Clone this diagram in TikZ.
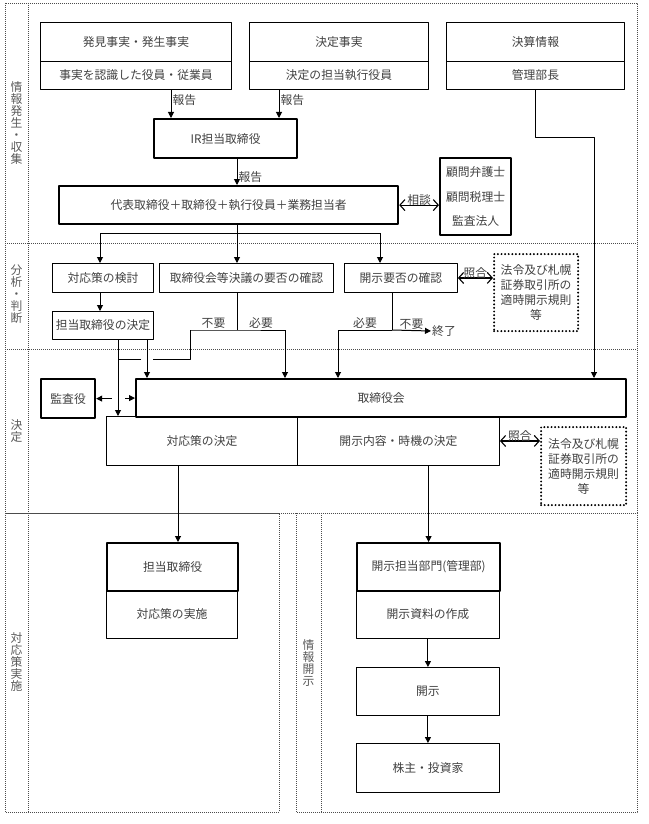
\documentclass[tikz,border=0pt]{standalone}
\usepackage{fontspec}
\setmainfont{Noto Sans CJK JP}
\usetikzlibrary{arrows.meta}

\begin{document}
\begin{tikzpicture}[x=1pt, y=-1pt, font=\fontsize{11.8}{14}\selectfont, line join=round,
	>={Triangle[length=6pt,width=6pt]},
	box/.style 2 args={draw, line width=.9pt, anchor=north west, inner sep=0pt, text=black!75,
		minimum width=#1pt, minimum height=#2pt},
	thickbox/.style 2 args={box={#1}{#2}, line width=2.2pt},
	dotbox/.style 2 args={box={#1}{#2}, line width=2.2pt, dash pattern=on 0pt off 3.6pt, line cap=round,
		align=center, font=\fontsize{11.8}{15}\selectfont},
	frame/.style={line width=.7pt, black!70, dash pattern=on .7pt off 1.3pt},
	side/.style={text=black!65, align=center, inner sep=0pt, font=\fontsize{11.8}{11.9}\selectfont},
	tag/.style={text=black!75, inner sep=1pt},
	link/.style={line width=1pt},
	talk/.style={line width=1.1pt, {Straight Barb[length=5pt,width=11pt]}-{Straight Barb[length=5pt,width=11pt]}}]
	\useasboundingbox (0,0) rectangle (648,824);
	\draw[frame] (5,3) rectangle (637,513);
	\draw[frame] (28,3) -- (28,513);
	\draw[frame] (5,243) -- (637,243);
	\draw[frame] (5,349) -- (637,349);
	\draw[frame] (5,513) rectangle (279,812);
	\draw[frame] (28,513) -- (28,812);
	\draw[frame] (296,513) rectangle (637,812);
	\draw[frame] (321,513) -- (321,812);
	\node[side] (s1) at (16.5,123) {情\\報\\発\\生\\・\\収\\集};
	\node[side] (s2) at (16.5,294) {分\\析\\・\\判\\断};
	\node[side] (s3) at (16.5,431) {決\\定};
	\node[side] (s4) at (16.5,662) {対\\応\\策\\実\\施};
	\node[side] (s5) at (308.5,663) {情\\報\\開\\示};

	\node[box={191}{39}] (hakken) at (40,22) {発見事実・発生事実};
	\node[box={191}{28}] (hakken2) at (40,61) {事実を認識した役員・従業員};
	\node[box={179}{39}] (kettei) at (249,22) {決定事実};
	\node[box={179}{28}] (kettei2) at (249,61) {決定の担当執行役員};
	\node[box={178}{39}] (kessan) at (446,22) {決算情報};
	\node[box={178}{28}] (kanri) at (446,61) {管理部長};
	\node[thickbox={143}{39}] (ir) at (153,118) {IR担当取締役};
	\node[thickbox={339}{38}] (daihyo) at (58,185) {代表取締役＋取締役＋執行役員＋業務担当者};
	\node[thickbox={71}{77}, align=center, font=\fontsize{11.8}{24.5}\selectfont] (komon) at (439,157)
		{顧問弁護士\\顧問税理士\\監査法人};
	\node[box={101}{29}] (kento) at (52,263) {対応策の検討};
	\node[box={174}{29}] (youhi) at (159,263) {取締役会等決議の要否の確認};
	\node[box={113}{29}] (kaijiyouhi) at (344,263) {開示要否の確認};
	\node[dotbox={84}{77}] (hourei1) at (493,253) {法令及び札幌\\証券取引所の\\適時開示規則\\等};
	\node[box={101}{28}] (tantokettei) at (52,311) {担当取締役の決定};
	\node[tag, anchor=west] (shuryo) at (431,331) {終了};

	\node[box={191}{49}] (taisaku) at (106,416) {対応策の決定};
	\node[box={202}{49}] (naiyou) at (297,416) {開示内容・時機の決定};
	\node[thickbox={54}{39}] (kansa) at (40,378) {監査役};
	\node[thickbox={490}{38}] (torishimari) at (135,378) {取締役会};
	\node[dotbox={85}{78}] (hourei2) at (540,426) {法令及び札幌\\証券取引所の\\適時開示規則\\等};

	\node[box={131}{48}] (jisshi) at (106,590) {対応策の実施};
	\node[thickbox={131}{48}] (tanto) at (106,542) {担当取締役};
	\node[box={143}{48}] (sakusei) at (356,590) {開示資料の作成};
	\node[thickbox={143}{48}] (kaijitanto) at (356,542) {開示担当部門(管理部)};
	\node[box={143}{48}] (kaiji) at (356,667) {開示};
	\node[box={143}{49}] (kabu) at (356,743) {株主・投資家};

	\coordinate (rep1) at (171,0);
	\coordinate (rep2) at (279,0);
	\coordinate (spine) at (237,233);
	\coordinate (lb) at (100,233);
	\coordinate (rb) at (380,233);
	\coordinate (no1) at (190,330);
	\coordinate (fork1) at (237,330);
	\coordinate (yes1) at (285,330);
	\coordinate (yes2) at (338,330);
	\coordinate (fork2) at (392,330);
	\coordinate (hop) at (118,359);
	\coordinate (hopL) at (141,359);
	\coordinate (hopR) at (153,359);
	\coordinate (lane) at (147,0);
	\coordinate (bend) at (594,137);
	\coordinate (exec) at (178,0);

	\draw[link,->] (rep1 |- hakken2.south) -- node[tag,right,pos=.35]{報告} (rep1 |- ir.north);
	\draw[link,->] (rep2 |- kettei2.south) -- node[tag,right,pos=.35]{報告} (rep2 |- ir.north);
	\draw[link,->] (spine |- ir.south) -- node[tag,right,pos=.7]{報告} (spine |- daihyo.north);
	\draw[talk] (daihyo.east) -- node[tag,above=-2pt]{相談} (daihyo.east -| komon.west);
	\draw[link] (spine |- daihyo.south) -- (spine);
	\draw[link] (lb) -- (rb);
	\draw[link,->] (lb) -- (lb |- kento.north);
	\draw[link,->] (spine) -- (spine |- youhi.north);
	\draw[link,->] (rb) -- (rb |- kaijiyouhi.north);
	\draw[talk] (kaijiyouhi.east) -- node[tag,above=-2pt]{照合} (kaijiyouhi.east -| hourei1.west);
	\draw[link,->] (lb |- kento.south) -- (lb |- tantokettei.north);

	\draw[link] (fork1 |- youhi.south) -- (fork1);
	\draw[link] (no1) -- node[tag,above]{不要} (fork1) -- node[tag,above]{必要} (yes1);
	\draw[link,->] (yes1) -- (yes1 |- torishimari.north);
	\draw[link] (no1) |- (hopR);
	\draw[link] (hopL) -- (hop);
	\draw[link,->] (hop |- tantokettei.south) -- (hop |- taisaku.north);
	\draw[link,->] (lane |- tantokettei.south) -- (lane |- torishimari.north);

	\draw[link] (fork2 |- kaijiyouhi.south) -- (fork2);
	\draw[link] (yes2) -- node[tag,above]{必要} (fork2);
	\draw[link,->] (fork2) -- node[tag,above]{不要} (shuryo.west);
	\draw[link,->] (yes2) -- (yes2 |- torishimari.north);
	\draw[link,->] (kanri.south) |- (bend) -- (bend |- torishimari.north);

	\draw[link,<-] (kansa.east) -- +(16,0);
	\draw[link,->] ([xshift=-10pt]torishimari.west) -- (torishimari.west);
	\draw[talk] (naiyou.east) -- node[tag,above=-2pt]{照合} (naiyou.east -| hourei2.west);
	\draw[link,->] (exec |- taisaku.south) -- (exec |- tanto.north);
	\draw[link,->] (kaijitanto.north |- naiyou.south) -- (kaijitanto.north);
	\draw[link,->] (sakusei.south) -- (kaiji.north);
	\draw[link,->] (kaiji.south) -- (kabu.north);
\end{tikzpicture}
\end{document}
